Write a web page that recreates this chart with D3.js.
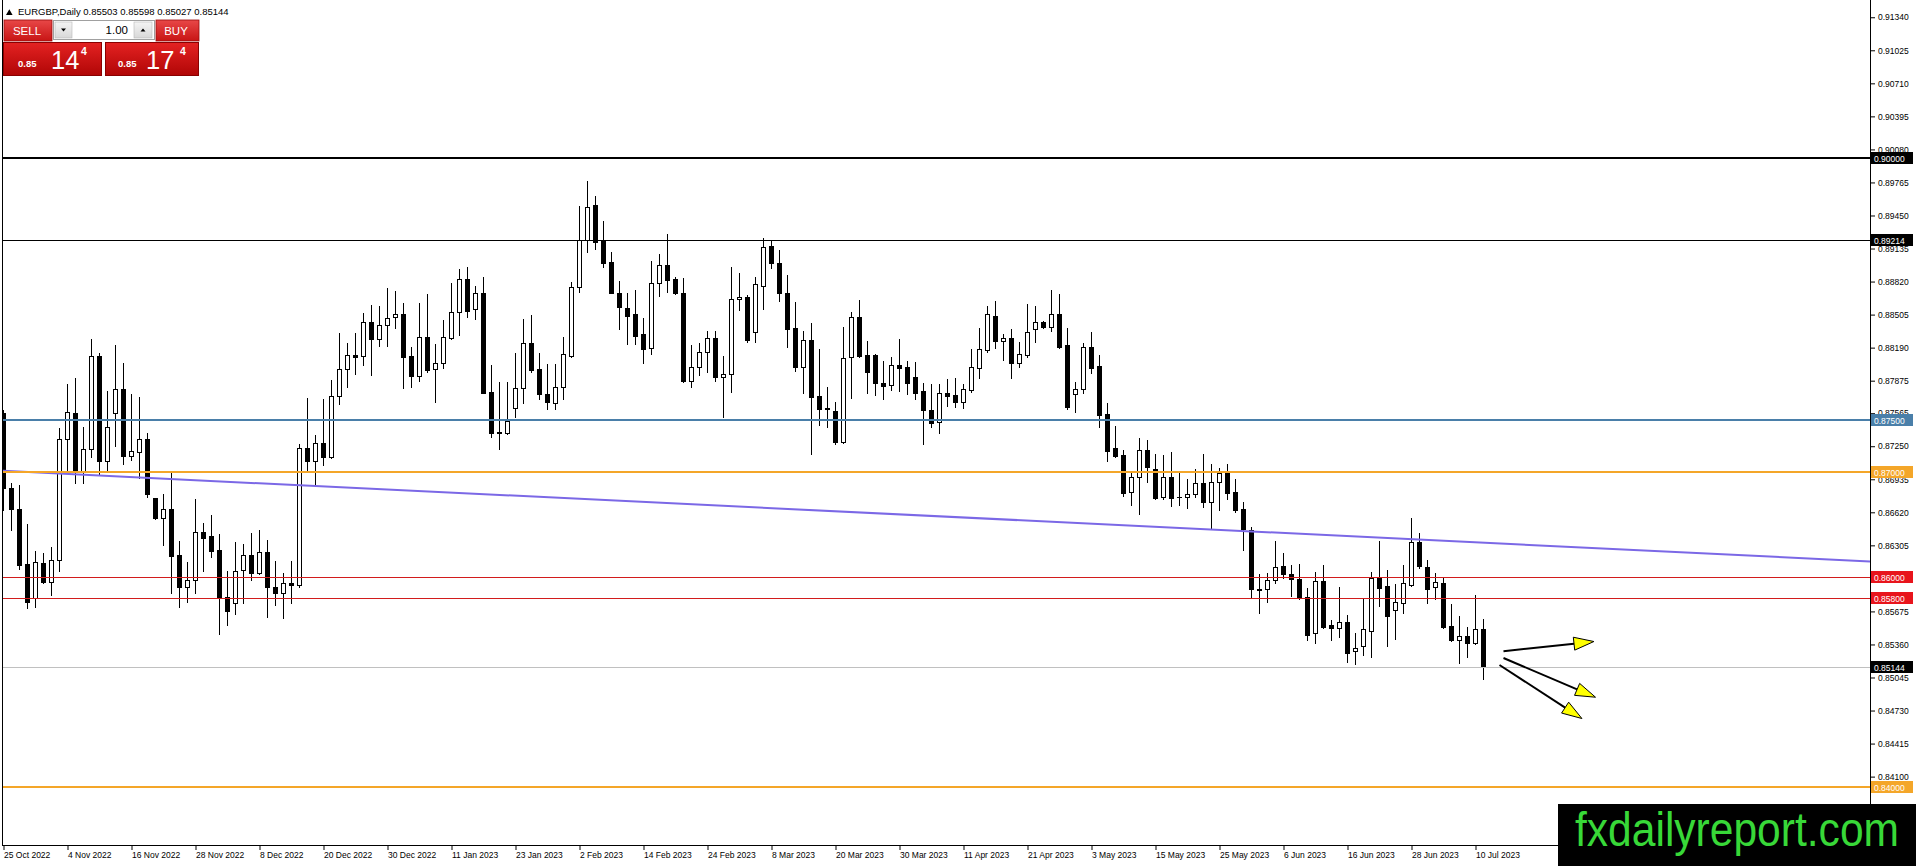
<!DOCTYPE html>
<html>
<head>
<meta charset="utf-8">
<script src="https://cdn.jsdelivr.net/npm/d3@7"></script>
<style>
  body { margin: 0; background: #fff; overflow: hidden; }
  text { font-family: "Liberation Sans", Arial, sans-serif; }
</style>
</head>
<body>
<div id="chart"></div>
<script>
// EURGBP daily candles, 25 Oct 2022 .. 11 Jul 2023 (one bar per weekday)
var open = [
  0.87563,0.86848,0.86648,0.86124,0.85800,0.86133,0.85959,0.86165,0.87316,0.87563,
  0.87007,0.87220,0.88110,0.87112,0.87563,0.87792,0.87160,0.87198,0.87316,0.86753,
  0.86569,0.86648,0.86210,0.85905,0.85975,0.86432,0.86394,0.86260,0.85816,0.85752,
  0.86067,0.86210,0.86044,0.86241,0.85905,0.85847,0.85949,0.85924,0.87233,0.87106,
  0.87284,0.87150,0.87726,0.87983,0.88116,0.88110,0.88438,0.88269,0.88406,0.88479,
  0.88508,0.88110,0.87923,0.88288,0.87983,0.88040,0.88279,0.88527,0.88841,0.88555,
  0.88708,0.87767,0.87383,0.87373,0.87611,0.87802,0.88231,0.87983,0.87748,0.87659,
  0.87818,0.88114,0.88771,0.89213,0.89547,0.89213,0.89003,0.88708,0.88568,0.88508,
  0.88320,0.88183,0.88803,0.88975,0.88845,0.88708,0.87875,0.88002,0.88145,0.88279,
  0.87907,0.87936,0.88651,0.88676,0.88336,0.88781,0.89159,0.88994,0.88708,0.88374,
  0.88009,0.88260,0.87729,0.87615,0.87586,0.87294,0.88098,0.88479,0.88120,0.88120,
  0.87850,0.87831,0.88021,0.88002,0.87907,0.87777,0.87596,0.87478,0.87754,0.87739,
  0.87675,0.87790,0.87999,0.88168,0.88492,0.88257,0.88279,0.88040,0.88123,0.88371,
  0.88431,0.88384,0.88508,0.88215,0.87748,0.87793,0.88193,0.88012,0.87554,0.87230,
  0.87163,0.86810,0.86954,0.87214,0.87033,0.86763,0.86957,0.86763,0.86763,0.86791,
  0.86896,0.86721,0.86906,0.86998,0.86810,0.86648,0.86448,0.85889,0.85886,0.85975,
  0.86108,0.86029,0.85987,0.85809,0.85466,0.85965,0.85546,0.85514,0.85577,0.85298,
  0.85346,0.85492,0.85990,0.85917,0.85689,0.85758,0.85927,0.86334,0.86102,0.85905,
  0.85943,0.85536,0.85403,0.85444,0.85371,0.85503];
var high = [
  0.87600,0.86896,0.86880,0.86508,0.86254,0.86229,0.86286,0.87420,0.87843,0.87897,
  0.87436,0.88269,0.88142,0.87776,0.88215,0.88047,0.87745,0.87722,0.87373,0.86760,
  0.86794,0.86991,0.86350,0.86143,0.86744,0.86521,0.86594,0.86410,0.86064,0.86340,
  0.86315,0.86419,0.86451,0.86356,0.86155,0.86044,0.86155,0.87271,0.87707,0.87354,
  0.87697,0.87881,0.88326,0.88231,0.88330,0.88520,0.88597,0.88587,0.88762,0.88730,
  0.88613,0.88193,0.88613,0.88698,0.88225,0.88454,0.88803,0.88940,0.88956,0.88778,
  0.88860,0.88025,0.87866,0.87859,0.88142,0.88463,0.88501,0.88139,0.88034,0.88031,
  0.88288,0.88813,0.89540,0.89779,0.89636,0.89397,0.89102,0.88825,0.88708,0.88739,
  0.88476,0.89016,0.89083,0.89274,0.88860,0.88851,0.88215,0.88231,0.88349,0.88349,
  0.88114,0.88956,0.88898,0.88692,0.88860,0.89232,0.89207,0.89121,0.88883,0.88622,
  0.88349,0.88422,0.88174,0.87812,0.87675,0.88387,0.88527,0.88644,0.88253,0.88130,
  0.88063,0.88098,0.88272,0.88063,0.88056,0.87850,0.87840,0.87840,0.87891,0.87898,
  0.87840,0.88174,0.88377,0.88590,0.88635,0.88320,0.88365,0.88244,0.88606,0.88590,
  0.88440,0.88740,0.88698,0.88374,0.87866,0.88238,0.88336,0.88120,0.87659,0.87443,
  0.87214,0.86992,0.87325,0.87309,0.87173,0.87166,0.87192,0.86992,0.86934,0.87030,
  0.87173,0.87077,0.87039,0.87081,0.86934,0.86715,0.86483,0.86029,0.86038,0.86347,
  0.86235,0.86118,0.86124,0.85895,0.86054,0.86118,0.85593,0.85905,0.85641,0.85466,
  0.85800,0.86054,0.86350,0.86070,0.85937,0.86118,0.86562,0.86420,0.86165,0.86038,
  0.85997,0.85743,0.85632,0.85530,0.85832,0.85598];
var low = [
  0.86642,0.86451,0.86076,0.85704,0.85714,0.85943,0.85831,0.86064,0.87007,0.86896,
  0.86902,0.87144,0.86985,0.87023,0.87252,0.87077,0.87119,0.86944,0.86763,0.86560,
  0.86308,0.85854,0.85714,0.85762,0.85854,0.86057,0.86197,0.85456,0.85542,0.85647,
  0.85752,0.85975,0.86032,0.85619,0.85733,0.85609,0.85752,0.85911,0.87017,0.86890,
  0.87074,0.87134,0.87653,0.87818,0.87935,0.88024,0.87929,0.88209,0.88209,0.88374,
  0.87808,0.87818,0.87875,0.87955,0.87675,0.87996,0.88269,0.88311,0.88485,0.88460,
  0.87754,0.87335,0.87221,0.87364,0.87532,0.87659,0.87961,0.87704,0.87608,0.87608,
  0.87704,0.88104,0.88724,0.89105,0.89131,0.88962,0.88714,0.88371,0.88221,0.88221,
  0.88040,0.88126,0.88686,0.88717,0.88701,0.87866,0.87818,0.87929,0.87961,0.87872,
  0.87532,0.87770,0.88549,0.88241,0.88247,0.88555,0.88946,0.88635,0.88196,0.87971,
  0.87761,0.87173,0.87456,0.87437,0.87268,0.87278,0.87707,0.88104,0.87754,0.87739,
  0.87697,0.87790,0.87780,0.87748,0.87697,0.87271,0.87437,0.87379,0.87634,0.87624,
  0.87618,0.87770,0.87901,0.88152,0.88190,0.88072,0.87901,0.88009,0.88104,0.88241,
  0.88380,0.88352,0.88190,0.87602,0.87580,0.87761,0.87945,0.87437,0.87113,0.87150,
  0.86779,0.86690,0.86601,0.86912,0.86747,0.86747,0.86683,0.86690,0.86664,0.86769,
  0.86674,0.86467,0.86642,0.86747,0.86626,0.86261,0.85809,0.85657,0.85768,0.85943,
  0.85990,0.85822,0.85795,0.85403,0.85371,0.85514,0.85403,0.85428,0.85196,0.85171,
  0.85260,0.85237,0.85730,0.85346,0.85415,0.85663,0.85921,0.86092,0.85752,0.85790,
  0.85514,0.85396,0.85187,0.85237,0.85365,0.85027];
var close = [
  0.86848,0.86648,0.86117,0.85768,0.86143,0.85959,0.86165,0.87316,0.87573,0.87007,
  0.87220,0.88110,0.87112,0.87436,0.87792,0.87157,0.87201,0.87316,0.86794,0.86569,
  0.86648,0.86206,0.85905,0.85975,0.86432,0.86378,0.86254,0.85816,0.85682,0.86057,
  0.86210,0.86044,0.86241,0.85905,0.85847,0.85949,0.85924,0.87233,0.87112,0.87284,
  0.87150,0.87726,0.87983,0.88116,0.88097,0.88438,0.88269,0.88406,0.88469,0.88508,
  0.88104,0.87920,0.88288,0.87977,0.88040,0.88288,0.88527,0.88841,0.88543,0.88708,
  0.87761,0.87380,0.87373,0.87494,0.87802,0.88231,0.87977,0.87745,0.87675,0.87818,
  0.88126,0.88771,0.89213,0.89528,0.89200,0.89000,0.88714,0.88574,0.88495,0.88304,
  0.88174,0.88803,0.88975,0.88832,0.88708,0.87875,0.88002,0.88145,0.88279,0.87907,
  0.87936,0.88654,0.88670,0.88263,0.88794,0.89153,0.88994,0.88708,0.88371,0.88009,
  0.88260,0.87723,0.87608,0.87608,0.87294,0.88088,0.88479,0.88110,0.87961,0.87850,
  0.87828,0.88021,0.87999,0.87856,0.87761,0.87599,0.87475,0.87754,0.87732,0.87675,
  0.87796,0.88002,0.88174,0.88508,0.88257,0.88279,0.88040,0.88130,0.88336,0.88431,
  0.88384,0.88508,0.88199,0.87624,0.87793,0.88193,0.87999,0.87548,0.87208,0.87160,
  0.86807,0.86954,0.87214,0.87055,0.86760,0.86960,0.86760,0.86769,0.86791,0.86896,
  0.86721,0.86906,0.86998,0.86807,0.86642,0.86458,0.85886,0.85883,0.85975,0.86102,
  0.86029,0.85981,0.85800,0.85450,0.85965,0.85530,0.85514,0.85577,0.85282,0.85330,
  0.85504,0.85990,0.85902,0.85635,0.85762,0.85943,0.86334,0.86108,0.85889,0.85952,
  0.85523,0.85403,0.85444,0.85371,0.85504,0.85144];

// one date label every 8 bars
var dateLabels = ["25 Oct 2022","4 Nov 2022","16 Nov 2022","28 Nov 2022","8 Dec 2022",
  "20 Dec 2022","30 Dec 2022","11 Jan 2023","23 Jan 2023","2 Feb 2023","14 Feb 2023",
  "24 Feb 2023","8 Mar 2023","20 Mar 2023","30 Mar 2023","11 Apr 2023","21 Apr 2023",
  "3 May 2023","15 May 2023","25 May 2023","6 Jun 2023","16 Jun 2023","28 Jun 2023","10 Jul 2023"];

var priceTicks = ["0.91340","0.91025","0.90710","0.90395","0.90080","0.89765","0.89450",
  "0.89135","0.88820","0.88505","0.88190","0.87875","0.87565","0.87250","0.86935","0.86620",
  "0.86305","0.85990","0.85675","0.85360","0.85045","0.84730","0.84415","0.84100"];

// horizontal levels drawn on the chart
var levels = ["0.90000","0.89214","0.87500","0.87000","0.86000","0.85800","0.85144","0.84000"];

// trend line (bar index, price) and the three forecast arrows
var trendIdx = [0, 185];
var trendVal = [0.87015, 0.86330];
var arrowFromIdx = [187.5, 187.5, 187.0];
var arrowFromVal = [0.85295, 0.85231, 0.85164];
var arrowToIdx = [198.8, 199.0, 197.3];
var arrowToVal = [0.85388, 0.84857, 0.84654];

var symbol = "EURGBP,Daily";
var lastBar = ["0.85503", "0.85598", "0.85027", "0.85144"];

var levelStyle = {
  "0.90000": {stroke: "#000000", w: 2, bg: "#000000"},
  "0.89214": {stroke: "#000000", w: 1, bg: "#000000"},
  "0.87500": {stroke: "#4a7fa9", w: 2, bg: "#4a7fa9"},
  "0.87000": {stroke: "#f4a629", w: 2, bg: "#f4a629"},
  "0.86000": {stroke: "#d21c1c", w: 1, bg: "#e8141c"},
  "0.85800": {stroke: "#d21c1c", w: 1, bg: "#e8141c"},
  "0.85144": {stroke: "#c0c0c0", w: 1, bg: "#000000"},
  "0.84000": {stroke: "#f4a629", w: 2, bg: "#f4a629"}
};

var width = 1916, height = 866;
var plotLeft = 2, plotRight = 1870, plotBottom = 845;

var svg = d3.select("#chart")
    .append("svg")
    .attr("width", width)
    .attr("height", height)
    .style("display", "block")
    .style("background", "#ffffff");

// bar index -> x (8 px per bar), price -> y
var x = d3.scaleLinear()
    .domain([0, open.length - 1])
    .range([3.5, 3.5 + 8 * (open.length - 1)]);
var y = d3.scaleLinear()
    .domain([0.84, 0.90])
    .range([787.1, 157.8]);

svg.append("defs").append("clipPath").attr("id", "plot")
  .append("rect")
    .attr("x", 3).attr("y", 0)
    .attr("width", plotRight - 3).attr("height", plotBottom);

var bars = d3.range(open.length).map(function(i) {
  return {i: i, o: open[i], h: high[i], l: low[i], c: close[i]};
});

var chart = svg.append("g").attr("clip-path", "url(#plot)");

// wicks
chart.selectAll("line.wick")
  .data(bars)
  .enter().append("line")
    .attr("class", "wick")
    .attr("x1", function(d) { return x(d.i); })
    .attr("x2", function(d) { return x(d.i); })
    .attr("y1", function(d) { return Math.round(y(d.h)); })
    .attr("y2", function(d) { return Math.round(y(d.l)) + 1; })
    .attr("stroke", "#000")
    .attr("shape-rendering", "crispEdges");

// bodies: black for down bars, white for up bars
chart.selectAll("rect.body")
  .data(bars)
  .enter().append("rect")
    .attr("class", "body")
    .attr("x", function(d) { return d.c < d.o ? x(d.i) - 2.5 : x(d.i) - 2; })
    .attr("width", function(d) { return d.c < d.o ? 5 : 4; })
    .attr("y", function(d) {
      return d.c < d.o ? Math.round(y(d.o)) : Math.round(y(d.c)) + 0.5;
    })
    .attr("height", function(d) {
      if (d.c < d.o) return Math.max(1, Math.round(y(d.c)) - Math.round(y(d.o)) + 1);
      return Math.max(0.01, Math.round(y(d.o)) - Math.round(y(d.c)));
    })
    .attr("fill", function(d) { return d.c < d.o ? "#000" : "#fff"; })
    .attr("stroke", function(d) { return d.c < d.o ? "none" : "#000"; })
    .attr("shape-rendering", "crispEdges");

// trend line, extended across the whole plot
var slope = (trendVal[1] - trendVal[0]) / (trendIdx[1] - trendIdx[0]);
var tLeft = x.invert(plotLeft), tRight = x.invert(plotRight);
chart.append("line")
    .attr("x1", x(tLeft))
    .attr("y1", y(trendVal[0] + slope * (tLeft - trendIdx[0])))
    .attr("x2", x(tRight))
    .attr("y2", y(trendVal[0] + slope * (tRight - trendIdx[0])))
    .attr("stroke", "#7b68e6")
    .attr("stroke-width", 2);

// horizontal levels
chart.selectAll("line.level")
  .data(levels)
  .enter().append("line")
    .attr("class", "level")
    .attr("x1", plotLeft).attr("x2", plotRight)
    .attr("y1", function(d) { return Math.round(y(+d)) + (levelStyle[d].w === 1 ? 0.5 : 0); })
    .attr("y2", function(d) { return Math.round(y(+d)) + (levelStyle[d].w === 1 ? 0.5 : 0); })
    .attr("stroke", function(d) { return levelStyle[d].stroke; })
    .attr("stroke-width", function(d) { return levelStyle[d].w; })
    .attr("shape-rendering", "crispEdges");

// arrows with yellow heads
var arrows = d3.range(arrowFromIdx.length).map(function(k) {
  return {x1: x(arrowFromIdx[k]), y1: y(arrowFromVal[k]), x2: x(arrowToIdx[k]), y2: y(arrowToVal[k])};
});
var headLen = 20, headHalf = 6.5;
arrows.forEach(function(a) {
  var ang = Math.atan2(a.y2 - a.y1, a.x2 - a.x1);
  var bx = a.x2 - headLen * Math.cos(ang), by = a.y2 - headLen * Math.sin(ang);
  var px = -Math.sin(ang) * headHalf, py = Math.cos(ang) * headHalf;
  svg.append("line")
      .attr("x1", a.x1).attr("y1", a.y1)
      .attr("x2", bx).attr("y2", by)
      .attr("stroke", "#000").attr("stroke-width", 2);
  svg.append("path")
      .attr("d", "M" + a.x2 + "," + a.y2 + "L" + (bx + px) + "," + (by + py) + "L" + (bx - px) + "," + (by - py) + "Z")
      .attr("fill", "#ffff00")
      .attr("stroke", "#000")
      .attr("stroke-width", 1);
});

// frame
svg.append("line").attr("x1", 2.5).attr("x2", 2.5).attr("y1", 0).attr("y2", plotBottom)
    .attr("stroke", "#000");
svg.append("line").attr("x1", plotRight + 0.5).attr("x2", plotRight + 0.5).attr("y1", 0).attr("y2", plotBottom + 1)
    .attr("stroke", "#000");
svg.append("line").attr("x1", 2).attr("x2", plotRight + 1).attr("y1", plotBottom + 0.5).attr("y2", plotBottom + 0.5)
    .attr("stroke", "#000");

// price axis
var yAxis = svg.append("g")
    .attr("transform", "translate(" + (plotRight + 1) + ",0)")
    .call(d3.axisRight(y)
      .tickValues(priceTicks.map(Number))
      .tickFormat(function(d, i) { return priceTicks[i]; })
      .tickSize(4).tickPadding(3));
yAxis.select(".domain").remove();
yAxis.attr("font-size", 8.5).attr("font-family", "Liberation Sans, Arial, sans-serif");

// date axis
var xAxis = svg.append("g")
    .attr("transform", "translate(0," + (plotBottom + 1) + ")")
    .call(d3.axisBottom(x)
      .tickValues(dateLabels.map(function(d, i) { return i * 8; }))
      .tickFormat(function(d, i) { return dateLabels[i]; })
      .tickSize(4).tickPadding(2));
xAxis.select(".domain").remove();
xAxis.attr("font-size", 8.5).attr("font-family", "Liberation Sans, Arial, sans-serif");
xAxis.selectAll("text").attr("text-anchor", "start").attr("x", 0);

// level price boxes on the axis
var tags = svg.selectAll("g.tag")
  .data(levels)
  .enter().append("g")
    .attr("class", "tag")
    .attr("transform", function(d) { return "translate(" + (plotRight + 1) + "," + Math.round(y(+d)) + ")"; });
tags.append("rect")
    .attr("x", 0).attr("y", -6)
    .attr("width", 42).attr("height", 12)
    .attr("fill", function(d) { return levelStyle[d].bg; });
tags.append("text")
    .attr("x", 3).attr("y", 3.5)
    .attr("font-size", 8.5)
    .attr("fill", "#fff")
    .text(function(d) { return d; });

// header
svg.append("path").attr("d", "M6,15L9.3,9.3L12.6,15Z").attr("fill", "#000");
svg.append("text")
    .attr("x", 18).attr("y", 15)
    .attr("font-size", 9.5)
    .attr("fill", "#000")
    .text(symbol + "  " + lastBar.join(" "));

// one-click trading panel
var defs = svg.select("defs");
var g1 = defs.append("linearGradient").attr("id", "redBtn").attr("x1", 0).attr("x2", 0).attr("y1", 0).attr("y2", 1);
g1.append("stop").attr("offset", "0%").attr("stop-color", "#e84848");
g1.append("stop").attr("offset", "100%").attr("stop-color", "#c81414");
var g2 = defs.append("linearGradient").attr("id", "redPanel").attr("x1", 0).attr("x2", 0).attr("y1", 0).attr("y2", 1);
g2.append("stop").attr("offset", "0%").attr("stop-color", "#e42222");
g2.append("stop").attr("offset", "100%").attr("stop-color", "#b00606");
var g3 = defs.append("linearGradient").attr("id", "greyBtn").attr("x1", 0).attr("x2", 0).attr("y1", 0).attr("y2", 1);
g3.append("stop").attr("offset", "0%").attr("stop-color", "#f4f4f4");
g3.append("stop").attr("offset", "100%").attr("stop-color", "#d8d8d8");

var panel = svg.append("g");
panel.append("rect").attr("x", 4).attr("y", 20).attr("width", 48).attr("height", 21)
    .attr("fill", "url(#redBtn)").attr("stroke", "#9a0a0a").attr("stroke-width", 0.8);
panel.append("text").attr("x", 27).attr("y", 35).attr("text-anchor", "middle")
    .attr("font-size", 11.5).attr("fill", "#fff").text("SELL");
panel.append("rect").attr("x", 156).attr("y", 20).attr("width", 43).attr("height", 21)
    .attr("fill", "url(#redBtn)").attr("stroke", "#9a0a0a").attr("stroke-width", 0.8);
panel.append("text").attr("x", 176).attr("y", 35).attr("text-anchor", "middle")
    .attr("font-size", 11.5).attr("fill", "#fff").text("BUY");
panel.append("rect").attr("x", 53.5).attr("y", 20.5).attr("width", 101).attr("height", 19)
    .attr("fill", "#fff").attr("stroke", "#a0a0a0");
panel.append("rect").attr("x", 55).attr("y", 22).attr("width", 17).attr("height", 16)
    .attr("fill", "url(#greyBtn)").attr("stroke", "#b8b8b8").attr("stroke-width", 0.6);
panel.append("path").attr("d", "M61,28.5L66,28.5L63.5,31.5Z").attr("fill", "#000");
panel.append("rect").attr("x", 134).attr("y", 22).attr("width", 18).attr("height", 16)
    .attr("fill", "url(#greyBtn)").attr("stroke", "#b8b8b8").attr("stroke-width", 0.6);
panel.append("path").attr("d", "M140.5,31.5L145.5,31.5L143,28.5Z").attr("fill", "#000");
panel.append("text").attr("x", 128).attr("y", 34).attr("text-anchor", "end")
    .attr("font-size", 11.5).attr("fill", "#000").text("1.00");

panel.append("rect").attr("x", 3.5).attr("y", 42.5).attr("width", 98).attr("height", 33)
    .attr("fill", "url(#redPanel)").attr("stroke", "#8a0000").attr("stroke-width", 1);
panel.append("rect").attr("x", 105.5).attr("y", 42.5).attr("width", 93).attr("height", 33)
    .attr("fill", "url(#redPanel)").attr("stroke", "#8a0000").attr("stroke-width", 1);
[[18, 51, 81, "14"], [118, 146, 180, "17"]].forEach(function(p) {
  panel.append("text").attr("x", p[0]).attr("y", 67).attr("font-size", 9.5)
      .attr("font-weight", "bold").attr("fill", "#fff").text("0.85");
  panel.append("text").attr("x", p[1]).attr("y", 68.5).attr("font-size", 25.5)
      .attr("fill", "#fff").text(p[3]);
  panel.append("text").attr("x", p[2]).attr("y", 55).attr("font-size", 10.5)
      .attr("font-weight", "bold").attr("fill", "#fff").text("4");
});

// watermark
svg.append("rect").attr("x", 1558).attr("y", 804).attr("width", 358).attr("height", 62)
    .attr("fill", "#000");
svg.append("text")
    .attr("x", 1575).attr("y", 846)
    .attr("font-size", 48)
    .attr("textLength", 324)
    .attr("lengthAdjust", "spacingAndGlyphs")
    .attr("fill", "#38d838")
    .text("fxdailyreport.com");
</script>
</body>
</html>
